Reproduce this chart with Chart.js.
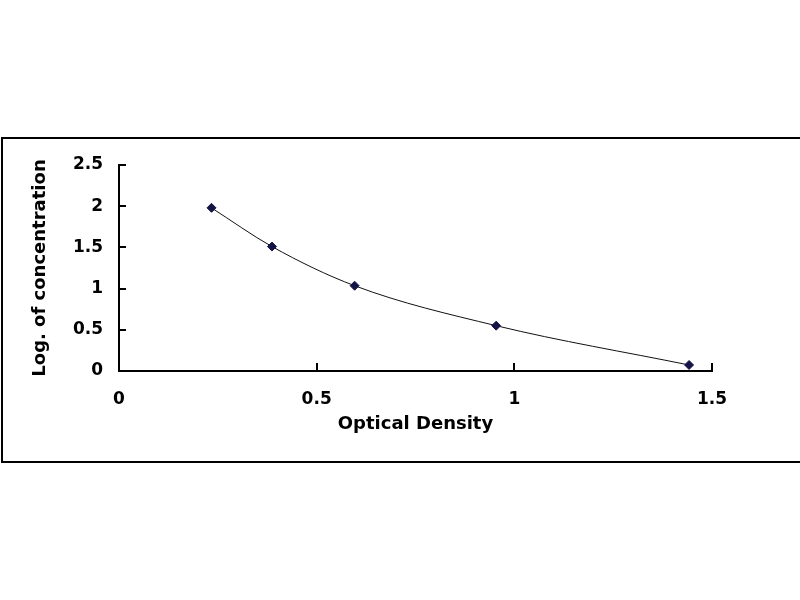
<!DOCTYPE html>
<html>
<head>
<meta charset="utf-8">
<script src="https://cdn.jsdelivr.net/npm/chart.js@4"></script>
<style>
  body { margin: 0; background: #fff; width: 800px; height: 600px; overflow: hidden; position: relative; }
  #frame { position: absolute; left: 1px; top: 137px; width: 805px; height: 322px; border: 2px solid #000; }
  #wrap { position: absolute; left: 0; top: 0; width: 800px; height: 600px; }
</style>
</head>
<body>
<div id="frame"></div>
<div id="wrap"><canvas id="curve" width="800" height="600"></canvas></div>
<script>
// standard curve readings
let opticalDensity = [0.234, 0.387, 0.596, 0.954, 1.442];
let logConcentration = [1.98, 1.51, 1.035, 0.55, 0.073];

let xTicks = [0, 0.5, 1, 1.5];
let yTicks = [0, 0.5, 1, 1.5, 2, 2.5];

let points = [];
for (let i = 0; i < opticalDensity.length; i++) {
    points.push({ x: opticalDensity[i], y: logConcentration[i] });
}

// excel-style tick marks that point into the plot
const insideTicks = {
    id: "insideTicks",
    afterDraw(chart) {
        const ctx = chart.ctx;
        const xs = chart.scales.x;
        const ys = chart.scales.y;
        const area = chart.chartArea;
        ctx.save();
        ctx.strokeStyle = "#000";
        ctx.lineWidth = 2;
        xTicks.forEach(v => {
            const px = Math.round(xs.getPixelForValue(v));
            ctx.beginPath();
            ctx.moveTo(px, area.bottom);
            ctx.lineTo(px, area.bottom - 8);
            ctx.stroke();
        });
        yTicks.forEach(v => {
            const py = Math.round(ys.getPixelForValue(v));
            ctx.beginPath();
            ctx.moveTo(area.left, py);
            ctx.lineTo(area.left + 7, py);
            ctx.stroke();
        });
        ctx.restore();
    }
};

const tickFont = { family: "DejaVu Sans", size: 17, weight: "bold" };
const titleFont = { family: "DejaVu Sans", size: 18, weight: "bold" };

new Chart(document.getElementById("curve"), {
    type: "scatter",
    data: {
        datasets: [{
            data: points,
            showLine: true,
            cubicInterpolationMode: "monotone",
            borderColor: "#111",
            borderWidth: 1,
            pointStyle: "rectRot",
            pointRadius: 4.5,
            pointBackgroundColor: "#141446",
            pointBorderColor: "#141446",
            pointBorderWidth: 1
        }]
    },
    options: {
        responsive: false,
        animation: false,
        devicePixelRatio: 1,
        layout: { padding: { left: 0, top: 165, right: 88, bottom: 161 } },
        plugins: { legend: { display: false }, tooltip: { enabled: false } },
        scales: {
            x: {
                type: "linear",
                min: 0,
                max: 1.5,
                afterBuildTicks: s => { s.ticks = xTicks.map(v => ({ value: v })); },
                afterFit: s => { s.height = 68; },
                grid: { display: false, drawTicks: false },
                border: { display: true, color: "#000", width: 2 },
                ticks: { color: "#000", font: tickFont, padding: 18, maxRotation: 0, callback: v => String(v) },
                title: { display: true, text: "Optical Density", color: "#000", font: titleFont, padding: { top: 4, bottom: 4 } }
            },
            y: {
                type: "linear",
                min: 0,
                max: 2.5,
                afterBuildTicks: s => { s.ticks = yTicks.map(v => ({ value: v })); },
                afterFit: s => { s.width = 119; },
                grid: { display: false, drawTicks: false },
                border: { display: true, color: "#000", width: 2 },
                ticks: { color: "#000", font: tickFont, padding: 16, callback: v => String(v) },
                title: { display: true, text: "Log. of concentration", color: "#000", font: titleFont, padding: { top: 30, bottom: 30 } }
            }
        }
    },
    plugins: [insideTicks]
});
</script>
</body>
</html>
